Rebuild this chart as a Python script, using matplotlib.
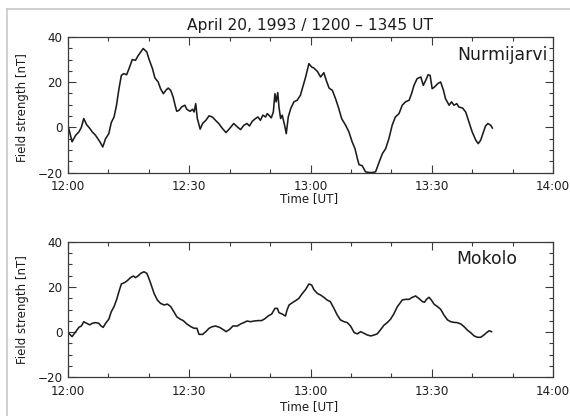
import matplotlib
matplotlib.use("Agg")
import matplotlib.pyplot as plt
from matplotlib.lines import Line2D
from matplotlib.ticker import MultipleLocator, FixedLocator

# Minutes after 12:00 UT and field strength [nT]
nurmi_t = [0.2, 1.0, 1.9, 2.7, 3.3, 3.9, 4.6, 5.4, 6.0, 6.8, 7.9, 8.6, 9.3, 10.1,
           10.7, 11.4, 12.0, 12.6, 13.2, 13.8, 14.5, 15.1, 15.9, 16.7, 17.3, 18.0,
           18.6, 19.5, 20.0, 20.9, 21.5, 22.3, 22.9, 23.6, 24.2, 24.8, 25.4, 26.0,
           26.5, 26.9, 27.5, 28.1, 28.9, 29.4, 30.2, 30.8, 31.2, 31.6, 32.0, 32.7,
           33.3, 34.1, 34.9, 35.7, 36.5, 37.3, 38.2, 39.1, 40.0, 41.0, 41.9, 42.7,
           43.5, 44.3, 44.9, 45.6, 46.4, 47.0, 47.6, 48.2, 48.9, 49.3, 49.7, 50.3,
           50.8, 51.2, 51.5, 51.9, 52.2, 52.6, 53.0, 53.6, 54.0, 54.5, 55.1, 55.9,
           56.7, 57.5, 58.2, 58.8, 59.2, 59.6, 60.3, 60.8, 61.7, 62.5, 63.3, 63.9,
           64.6, 65.4, 66.2, 67.0, 67.7, 68.7, 69.5, 70.3, 71.0, 71.6, 72.0, 72.8,
           73.6, 74.5, 75.3, 76.1, 77.0, 77.8, 78.6, 79.4, 80.2, 81.0, 81.9, 82.7,
           83.5, 84.4, 85.0, 85.6, 86.4, 87.3, 87.9, 88.5, 89.1, 89.6, 90.1, 90.7,
           91.5, 92.2, 92.9, 93.4, 94.3, 94.9, 95.5, 96.2, 96.7, 97.6, 98.4, 99.2,
           100.0, 100.9, 101.5, 102.1, 102.8, 103.3, 103.9, 104.6, 105.0]
nurmi_b = [-0.5, -6.4, -3.5, -2.0, 0.0, 3.9, 1.2, -0.5, -2.0, -3.5, -6.4, -8.7, -5.0, -2.8,
           2.1, 4.6, 9.8, 17.0, 23.0, 23.8, 23.3, 26.0, 30.0, 29.7, 31.6, 33.4,
           34.9, 33.4, 30.4, 26.0, 21.9, 20.1, 17.1, 14.9, 16.4, 17.4, 16.4, 13.5,
           9.8, 7.1, 7.6, 9.0, 9.8, 8.0, 7.1, 8.0, 6.8, 10.5, 3.9, -0.8,
           1.7, 3.1, 5.1, 4.6, 3.1, 1.7, -0.5, -2.3, -0.5, 1.7, 0.2, -1.0,
           0.9, 1.7, 0.6, 2.7, 3.9, 4.6, 3.1, 5.4, 4.6, 6.1, 5.4, 4.2,
           6.8, 14.9, 11.3, 15.4, 9.0, 3.9, 5.4, 0.9, -2.8, 4.6, 8.3, 11.3,
           12.0, 14.2, 18.6, 22.3, 25.3, 28.2, 26.7, 26.3, 24.8, 22.3, 24.2, 20.8,
           17.4, 16.4, 12.7, 8.3, 3.9, 0.9, -2.0, -6.4, -9.4, -13.8, -16.5, -17.0,
           -19.7, -20.0, -20.0, -19.7, -15.3, -11.6, -9.4, -5.0, 0.9, 4.6, 6.1, 9.8,
           11.3, 12.0, 14.9, 18.6, 21.6, 22.3, 18.6, 20.8, 23.3, 23.0, 17.1, 17.9,
           19.4, 20.1, 16.4, 12.7, 9.8, 11.3, 9.8, 10.5, 9.0, 8.6, 6.8, 2.4,
           -2.0, -5.7, -7.2, -5.7, -2.0, 0.6, 1.7, 0.9, -0.3]

mokolo_t = [0.2, 1.0, 1.9, 2.7, 3.3, 3.9, 4.6, 5.4, 6.0, 6.8, 7.6, 8.2, 8.7, 9.3,
            10.1, 10.7, 11.4, 12.0, 12.6, 13.2, 14.0, 14.7, 15.5, 16.2, 16.7, 17.3,
            18.0, 18.8, 19.5, 20.0, 20.6, 21.3, 22.1, 22.9, 23.8, 24.6, 25.4, 26.2,
            26.9, 27.7, 28.5, 29.4, 30.4, 31.2, 31.9, 32.4, 33.3, 34.1, 34.9, 35.7,
            36.5, 37.5, 38.6, 39.1, 40.0, 40.8, 41.9, 42.7, 43.5, 44.3, 45.2, 46.0,
            47.1, 47.9, 48.7, 49.5, 50.4, 51.2, 51.8, 52.2, 53.0, 53.8, 54.2, 54.7,
            55.5, 56.3, 57.1, 57.9, 58.8, 59.6, 60.3, 60.8, 61.7, 62.5, 63.3, 64.1,
            64.9, 65.8, 66.6, 67.4, 68.3, 69.1, 69.9, 70.8, 71.6, 72.4, 73.2, 74.1,
            74.9, 75.7, 76.5, 77.4, 78.2, 79.0, 79.8, 80.6, 81.5, 82.1, 82.7, 83.5,
            84.4, 85.2, 86.0, 86.8, 87.7, 88.2, 88.7, 89.3, 89.9, 90.6, 91.4, 92.2,
            93.0, 93.9, 94.7, 95.5, 96.3, 97.2, 98.0, 98.8, 99.6, 100.5, 101.3, 102.1,
            102.9, 103.6, 104.2, 104.8]
mokolo_b = [-0.5, -2.0, 0.2, 2.1, 2.7, 4.6, 3.9, 3.2, 3.9, 4.2, 3.9, 2.7, 2.1, 3.9,
            5.7, 9.0, 11.3, 14.2, 17.9, 21.3, 21.9, 22.8, 24.2, 24.8, 24.1, 24.8,
            26.0, 26.7, 26.0, 23.8, 20.8, 17.1, 14.2, 12.7, 12.0, 12.4, 11.3, 9.0,
            6.8, 5.8, 5.1, 3.6, 2.4, 1.7, 1.7, -1.0, -1.0, 0.2, 1.7, 2.4,
            2.7, 2.1, 0.9, 0.2, 1.2, 2.7, 2.7, 3.6, 4.2, 4.9, 4.6, 4.9,
            5.1, 5.1, 5.9, 7.1, 8.0, 10.5, 10.5, 8.6, 8.0, 7.1, 9.8, 12.0,
            13.0, 13.9, 14.9, 16.9, 18.9, 21.3, 20.8, 18.9, 17.1, 16.4, 15.4, 14.2,
            13.5, 10.5, 7.6, 5.4, 4.6, 4.2, 2.7, -0.2, -0.8, 0.2, -0.5, -1.3,
            -1.7, -1.3, -0.8, 1.2, 3.1, 4.2, 5.7, 8.0, 11.3, 12.7, 14.2, 14.5,
            14.5, 15.4, 16.0, 14.9, 13.5, 13.2, 14.5, 15.4, 14.2, 12.3, 11.3, 10.1,
            7.6, 5.4, 4.6, 4.3, 4.2, 3.6, 2.4, 0.9, -0.2, -1.7, -2.3, -2.3,
            -1.3, -0.2, 0.6, 0.2]

stations = ["Nurmijarvi", "Mokolo"]
time_ticks = [0, 30, 60, 90, 120]
time_labels = ["12:00", "12:30", "13:00", "13:30", "14:00"]
title = "April 20, 1993 / 1200 \u2013 1345 UT"

plt.rcParams["font.family"] = ["DejaVu Sans"]
ink = "#1c1c1c"
axis_col = "#3a3a3a"

fig = plt.figure(figsize=(5.70, 4.16), dpi=100)
fig.patch.set_facecolor("white")

# light frame along the left and top edges
fig.add_artist(Line2D([7 / 570, 7 / 570], [0, 1 - 9 / 416], transform=fig.transFigure,
                      color="#c8c8c8", lw=1.2))
fig.add_artist(Line2D([7 / 570, 1], [1 - 9 / 416, 1 - 9 / 416], transform=fig.transFigure,
                      color="#c8c8c8", lw=1.2))

ax_top = fig.add_axes([68 / 570, 0.5853, 485 / 570, 0.3257])
ax_bot = fig.add_axes([68 / 570, 0.0930, 485 / 570, 0.3260])

series = [(nurmi_t, nurmi_b), (mokolo_t, mokolo_b)]
name_pos = [(0.988, 0.867), (0.926, 0.872)]
ylab_y = [0.48, 0.5]
xlab_off = [26.5, 29.0]

for ax, (t, b), name, (nx, ny), ly, xo in zip([ax_top, ax_bot], series, stations,
                                            name_pos, ylab_y, xlab_off):
    ax.plot(t, b, color=ink, lw=1.15, solid_joinstyle="round")
    ax.set_xlim(0, 120)
    ax.set_ylim(-20, 40)
    ax.xaxis.set_major_locator(FixedLocator(time_ticks))
    ax.set_xticklabels(time_labels)
    ax.xaxis.set_minor_locator(MultipleLocator(10))
    ax.yaxis.set_major_locator(MultipleLocator(20))
    ax.yaxis.set_minor_locator(MultipleLocator(5))
    ax.tick_params(which="both", direction="in", top=True, right=True,
                   colors=axis_col, labelcolor=ink, labelsize=8.6, width=0.8)
    ax.tick_params(which="major", length=6.0)
    ax.tick_params(which="minor", length=3.0)
    ax.tick_params(axis="x", pad=5.5)
    ax.tick_params(axis="y", pad=4)
    for s in ax.spines.values():
        s.set_color(axis_col)
        s.set_linewidth(0.9)
    ax.set_ylabel("Field strength [nT]", fontsize=8.5, color=ink)
    ax.yaxis.label.set_va("center")
    ax.yaxis.set_label_coords(-0.093, ly)
    ax.set_xlabel("Time [UT]", fontsize=8.6, color=ink, labelpad=0)
    ax.xaxis.set_label_coords(0.497, -xo / 135.5)
    ax.xaxis.label.set_va("center")
    ax.text(nx, ny, name, transform=ax.transAxes, ha="right", va="center",
            fontsize=12.4, color=ink)

fig.text(310 / 570, 1 - 25.5 / 416, title, ha="center", va="center",
         fontsize=11.2, color=ink)

fig.savefig("out.png", dpi=100, facecolor="white")
